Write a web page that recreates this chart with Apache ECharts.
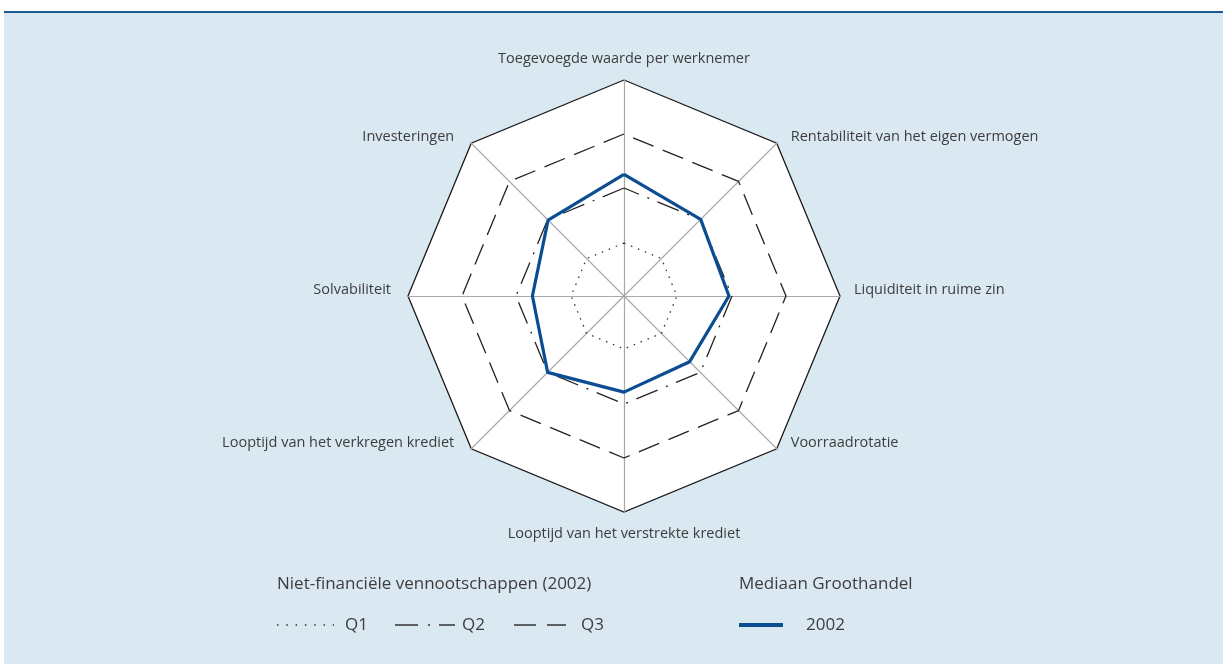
<!DOCTYPE html>
<html>
<head>
<meta charset="utf-8">
<title>Mediaan Groothandel 2002</title>
<script src="https://cdn.jsdelivr.net/npm/echarts@6/dist/echarts.min.js"></script>
<style>
  html, body { margin: 0; padding: 0; background: #ffffff; }
  #panel {
    position: absolute; left: 4px; top: 11px; width: 1219px; height: 653px;
    background: #d9e8f1; border-top: 2px solid #1d5896; box-sizing: border-box;
  }
  #chart { position: absolute; left: 0; top: 0; width: 1223px; height: 664px; }
</style>
</head>
<body>
<div id="panel"></div>
<div id="chart"></div>
<script>
// Indicators in ECharts order (counter-clockwise, starting at the top)
const indicators = [
  'Toegevoegde waarde per werknemer',
  'Investeringen',
  'Solvabiliteit',
  'Looptijd van het verkregen krediet',
  'Looptijd van het verstrekte krediet',
  'Voorraadrotatie',
  'Liquiditeit in ruime zin',
  'Rentabiliteit van het eigen vermogen'
];

// Non-financial companies 2002: quartile rings
const q1 = [0.245, 0.245, 0.245, 0.245, 0.245, 0.245, 0.245, 0.245];
const q2 = [0.50, 0.50, 0.50, 0.50, 0.50, 0.50, 0.50, 0.50];
const q3 = [0.75, 0.75, 0.75, 0.75, 0.75, 0.75, 0.75, 0.75];

// Wholesale median 2002
const median2002 = [0.563, 0.497, 0.424, 0.50, 0.445, 0.43, 0.486, 0.502];

const legendTitles = ['Niet-financiële vennootschappen (2002)', 'Mediaan Groothandel'];
const legendNames = ['Q1', 'Q2', 'Q3', '2002'];

const CX = 624, CY = 296, R = 216;
const FONT = 'Open Sans';
const TXT = '#3d3d3d';
const BLUE = '#0b4d92';

const chart = echarts.init(document.getElementById('chart'), null, { renderer: 'canvas' });

// Axis names placed beside each vertex
const nameLabels = indicators.map((name, i) => {
  const a = Math.PI / 2 + i * 2 * Math.PI / indicators.length;
  const c = Math.cos(a), s = Math.sin(a);
  const vx = CX + R * c, vy = CY - R * s;
  let x = vx, y = vy, align = 'center';
  if (Math.abs(c) < 0.01) {
    y = s > 0 ? vy - 21 : vy + 22;
  } else {
    align = c > 0 ? 'left' : 'right';
    x = c > 0 ? vx + 14 : vx - 17;
    y = vy - 6;
  }
  return {
    type: 'text', x: x, y: y, silent: true,
    style: { text: name, fill: TXT, font: '14.5px "' + FONT + '"', align: align, verticalAlign: 'middle' }
  };
});

function legendLine(x1, x2, y, dash, color, width) {
  return {
    type: 'line', silent: true,
    shape: { x1: x1, y1: y, x2: x2, y2: y },
    style: { stroke: color, lineWidth: width, lineDash: dash }
  };
}
function legendText(text, x, y, size) {
  return {
    type: 'text', x: x, y: y, silent: true,
    style: { text: text, fill: TXT, font: size + 'px "' + FONT + '"', align: 'left', verticalAlign: 'middle' }
  };
}

const legendItems = [
  legendText(legendTitles[0], 277, 584, 17),
  legendText(legendTitles[1], 739, 584, 17),
  legendLine(277, 334, 625, [1.5, 7.8], '#333', 1.3),
  legendText(legendNames[0], 345, 625, 17),
  legendLine(395, 455, 625, [23, 10, 2, 9], '#333', 1.3),
  legendText(legendNames[1], 462, 625, 17),
  legendLine(514, 566, 625, [22, 11], '#333', 1.3),
  legendText(legendNames[2], 581, 625, 17),
  legendLine(739, 783, 625, null, BLUE, 4),
  legendText(legendNames[3], 806, 625, 17)
];

const option = {
  animation: false,
  backgroundColor: 'transparent',
  radar: {
    center: [CX, CY],
    radius: R,
    startAngle: 90,
    shape: 'polygon',
    splitNumber: 1,
    indicator: indicators.map(n => ({ name: n, min: 0, max: 1 })),
    axisName: { show: false },
    axisLine: { lineStyle: { color: '#a9a9a9', width: 1.2 } },
    splitLine: { lineStyle: { color: '#1a1a1a', width: 1.3 } },
    splitArea: { show: true, areaStyle: { color: ['#ffffff'] } }
  },
  series: [{
    type: 'radar',
    symbol: 'none',
    silent: true,
    data: [
      { name: 'Q1', value: q1, lineStyle: { color: '#333', width: 1.3, type: [1.5, 6] } },
      { name: 'Q2', value: q2, lineStyle: { color: '#222', width: 1.3, type: [23, 9, 2, 9] } },
      { name: 'Q3', value: q3, lineStyle: { color: '#222', width: 1.3, type: [22, 10] } },
      { name: '2002', value: median2002, lineStyle: { color: BLUE, width: 3.2 } }
    ]
  }],
  graphic: nameLabels.concat(legendItems)
};

chart.setOption(option);
</script>
</body>
</html>
